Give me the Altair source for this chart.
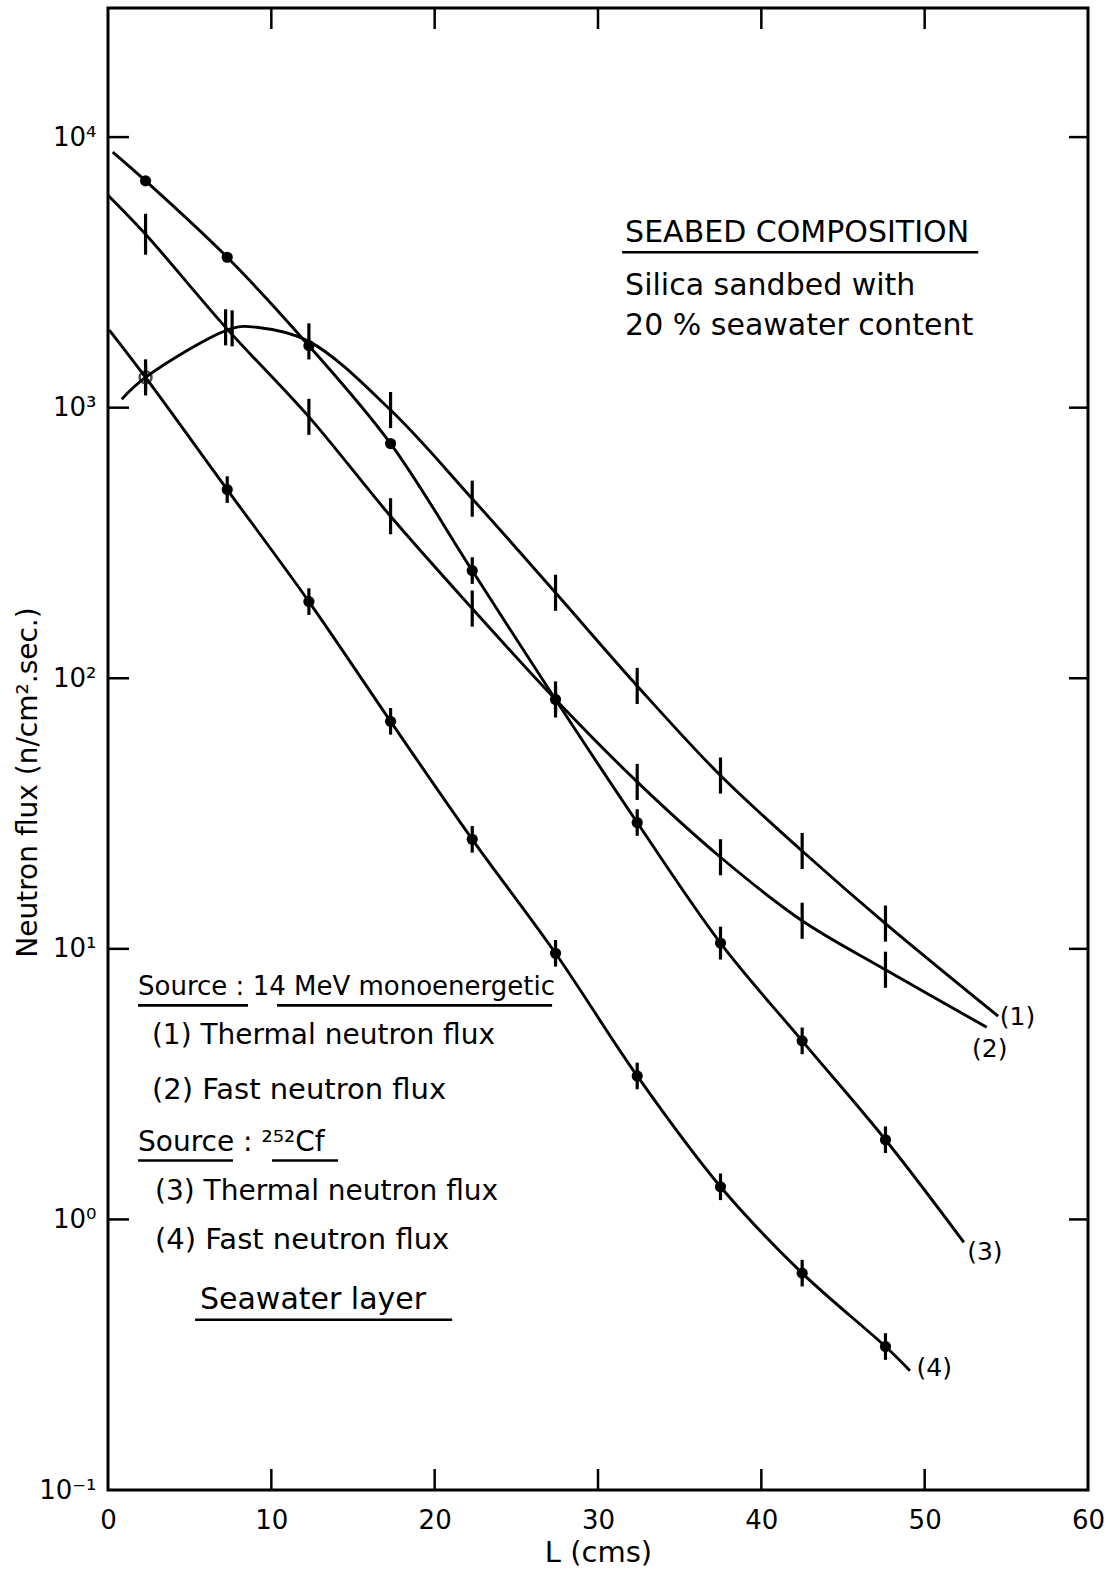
import altair as alt
import pandas as pd

# ---------------- data ----------------
# (1) Thermal neutron flux, 14 MeV source  (error bars only)
L1 = [2.3, 7.6, 12.3, 17.3, 22.3, 27.4, 32.4, 37.5, 42.5, 47.6]
F1 = [1294, 1964, 1758, 980, 461, 207, 93.7, 43.7, 23.0, 12.4]
E1 = [1.166, 1.166, 1.166, 1.166, 1.166, 1.166, 1.166, 1.166, 1.166, 1.166]
# (2) Fast neutron flux, 14 MeV source  (error bars only)
L2 = [2.3, 7.2, 12.3, 17.3, 22.3, 27.4, 32.4, 37.5, 42.5, 47.6]
F2 = [4375, 1981, 925, 397, 181, 83.5, 41.4, 21.8, 12.7, 8.37]
E2 = [1.19, 1.166, 1.166, 1.166, 1.166, 1.166, 1.166, 1.166, 1.166, 1.166]
# (3) Thermal neutron flux, 252Cf source  (filled dots)
L3 = [2.3, 7.3, 12.3, 17.3, 22.3, 27.4, 32.4, 37.5, 42.5, 47.6]
F3 = [6891, 3597, 1695, 737, 250, 83.5, 29.3, 10.5, 4.57, 1.97]
E3 = [1.0, 1.0, 1.0, 1.0, 1.12, 1.12, 1.12, 1.15, 1.12, 1.12]
# (4) Fast neutron flux, 252Cf source  (filled dots, first one open)
L4 = [2.3, 7.3, 12.3, 17.3, 22.3, 27.4, 32.4, 37.5, 42.5, 47.6]
F4 = [1294, 498, 192, 69.3, 25.4, 9.63, 3.39, 1.32, 0.633, 0.339]
E4 = [1.12, 1.12, 1.12, 1.12, 1.12, 1.12, 1.12, 1.12, 1.12, 1.12]
M4 = ["open", "dot", "dot", "dot", "dot", "dot", "dot", "dot", "dot", "dot"]

# extra points of the drawn curves (ends, hump)
C1_L = [0.84, 9.1, 54.5]
C1_F = [1075, 1982, 5.64]
C2_L = [0.0, 53.8]
C2_F = [6100, 5.13]
C3_L = [0.29, 52.4]
C3_F = [8800, 0.823]
C4_L = [0.08, 49.1]
C4_F = [1936, 0.276]

# curve end labels
CURVE_LABELS = ["(1)", "(2)", "(3)", "(4)"]
CURVE_LABEL_L = [54.6, 52.9, 52.6, 49.5]
CURVE_LABEL_F = [5.58, 4.25, 0.76, 0.283]

# annotation text (font sizes per line)
NOTE_TEXT = ["SEABED COMPOSITION", "Silica sandbed with", "20 % seawater content",
             "Source : 14 MeV monoenergetic", "(1) Thermal neutron flux",
             "(2) Fast neutron flux", "Source : ²⁵²Cf",
             "(3) Thermal neutron flux", "(4) Fast neutron flux",
             "Seawater layer"]
NOTE_SIZE = [30, 30, 30, 26, 28, 29, 28, 28, 29, 30]
NOTE_L = [31.66, 31.66, 31.66, 1.84, 2.69, 2.69, 1.84, 2.88, 2.88, 5.63]
NOTE_F = [4414, 2810, 1998, 7.21, 4.75, 3.02, 1.924, 1.267, 0.842, 0.505]

# underlines
UL_L1 = [31.48, 1.84, 10.35, 1.84, 10.04, 5.33]
UL_L2 = [53.28, 8.57, 27.19, 7.65, 14.08, 21.07]
UL_F = [3753, 6.18, 6.18, 1.651, 1.651, 0.4256]

X_TICKS = [0, 10, 20, 30, 40, 50, 60]
X_INNER = [10, 20, 30, 40, 50]
Y_TICKS = [0.1, 1, 10, 100, 1000, 10000]
Y_INNER = [1, 10, 100, 1000, 10000]

# ---------------- tables ----------------
pts = []
for name, Ls, Fs, Es, kind in [("1", L1, F1, E1, "bar"), ("2", L2, F2, E2, "bar"),
                               ("3", L3, F3, E3, "dot"), ("4", L4, F4, E4, "dot")]:
    for i, (l, f, e) in enumerate(zip(Ls, Fs, Es)):
        mk = kind
        if name == "4":
            mk = M4[i]
        pts.append({"series": name, "L": l, "F": f, "lo": f / e, "hi": f * e,
                    "haserr": e > 1.0, "marker": mk})
pts = pd.DataFrame(pts)

lines = []
for name, Ls, Fs, XL, XF in [("1", L1, F1, C1_L, C1_F), ("2", L2, F2, C2_L, C2_F),
                             ("3", L3, F3, C3_L, C3_F), ("4", L4, F4, C4_L, C4_F)]:
    for l, f in list(zip(Ls, Fs)) + list(zip(XL, XF)):
        lines.append({"series": name, "L": l, "F": f})
lines = pd.DataFrame(lines).sort_values(["series", "L"])

notes = pd.DataFrame({"text": NOTE_TEXT, "L": NOTE_L, "F": NOTE_F, "size": NOTE_SIZE})
clabels = pd.DataFrame({"text": CURVE_LABELS, "L": CURVE_LABEL_L, "F": CURVE_LABEL_F})
ul = pd.DataFrame({"L": UL_L1, "L2": UL_L2, "F": UL_F})
xt = pd.DataFrame({"L": X_INNER})
yt = pd.DataFrame({"F": Y_INNER})

W, H = 980, 1482
xs = alt.Scale(domain=[0, 60], nice=False, zero=False)
ys = alt.Scale(type="log", domain=[0.1, 30000], nice=False)

label_expr = ("datum.value > 5000 ? '10⁴' : datum.value > 500 ? '10³' : "
              "datum.value > 50 ? '10²' : datum.value > 5 ? '10¹' : "
              "datum.value > 0.5 ? '10⁰' : '10⁻¹'")

x_axis = alt.Axis(values=X_TICKS, tickSize=0, domain=False, grid=False, labelFontSize=26,
                  labelPadding=17, labelColor="black", title="L (cms)", titleFontSize=29,
                  titleFontWeight="normal", titleColor="black", titleY=62,
                  titleBaseline="middle", format="d", labelFlush=False)
y_axis = alt.Axis(values=Y_TICKS, tickSize=0, domain=False, grid=False, labelFontSize=26,
                  labelPadding=12, labelColor="black", labelExpr=label_expr,
                  title="Neutron flux (n/cm².sec.)", titleFontSize=28,
                  titleFontWeight="normal", titleColor="black", titleX=-80, titleY=774,
                  titleBaseline="middle", labelFlush=False)


def X(field):
    return alt.X(field, scale=xs, axis=x_axis)


def Y(field):
    return alt.Y(field, scale=ys, axis=y_axis)


line_layer = alt.Chart(lines).mark_line(interpolate="catmull-rom", color="black",
                                        strokeWidth=2.9).encode(
    x=X("L:Q"), y=Y("F:Q"), detail="series:N", order="L:Q",
)

err_layer = alt.Chart(pts).transform_filter("datum.haserr").mark_rule(
    color="black", strokeWidth=3.2).encode(
    x=X("L:Q"), y=Y("lo:Q"), y2="hi:Q",
)

dot_layer = alt.Chart(pts).transform_filter("datum.marker == 'dot'").mark_circle(
    color="black", size=125, opacity=1).encode(x=X("L:Q"), y=Y("F:Q"))

open_layer = alt.Chart(pts).transform_filter("datum.marker == 'open'").mark_point(
    shape="circle", filled=False, color="black", size=140, strokeWidth=2.5).encode(
    x=X("L:Q"), y=Y("F:Q"))

note_layer = alt.Chart(notes).mark_text(align="left", baseline="middle",
                                        color="black", font="DejaVu Sans").encode(
    x=X("L:Q"), y=Y("F:Q"), text="text:N",
    size=alt.Size("size:Q", scale=None, legend=None))

clabel_layer = alt.Chart(clabels).mark_text(align="left", baseline="middle", fontSize=25,
                                            color="black", font="DejaVu Sans").encode(
    x=X("L:Q"), y=Y("F:Q"), text="text:N")

ul_layer = alt.Chart(ul).mark_rule(color="black", strokeWidth=2.6).encode(
    x=X("L:Q"), x2="L2:Q", y=Y("F:Q"))

top_ticks = alt.Chart(xt).mark_rule(color="black", strokeWidth=2.5).encode(
    x=X("L:Q"), y=alt.value(0), y2=alt.value(21))
bot_ticks = alt.Chart(xt).mark_rule(color="black", strokeWidth=2.5).encode(
    x=X("L:Q"), y=alt.value(H), y2=alt.value(H - 21))
left_ticks = alt.Chart(yt).mark_rule(color="black", strokeWidth=2.5).encode(
    y=Y("F:Q"), x=alt.value(0), x2=alt.value(21))
right_ticks = alt.Chart(yt).mark_rule(color="black", strokeWidth=2.5).encode(
    y=Y("F:Q"), x=alt.value(W), x2=alt.value(W - 19))

chart = alt.layer(
    line_layer, err_layer, dot_layer, open_layer, note_layer, clabel_layer, ul_layer,
    top_ticks, bot_ticks, left_ticks, right_ticks,
).properties(
    width=W, height=H,
    autosize=alt.AutoSizeParams(type="none"),
    padding={"left": 108, "top": 8, "right": 21, "bottom": 79},
    background="white",
).configure(
    font="DejaVu Sans",
).configure_view(
    stroke="black", strokeWidth=3,
)

chart.save("out.html", embed_options={"renderer": "svg", "actions": False})
